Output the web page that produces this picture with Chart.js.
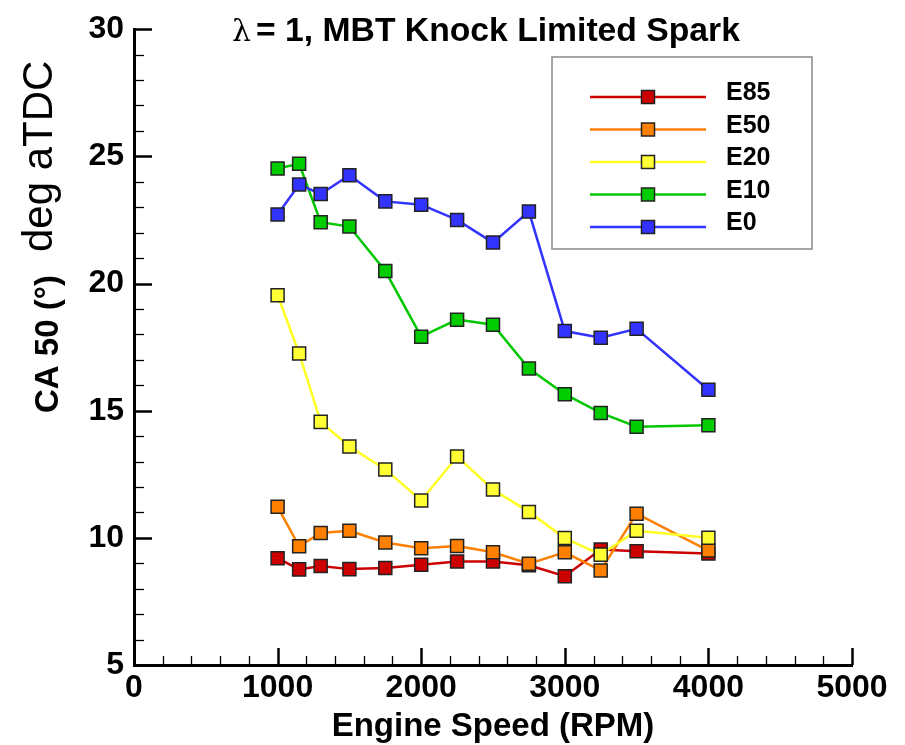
<!DOCTYPE html>
<html>
<head>
<meta charset="utf-8">
<script src="https://cdn.jsdelivr.net/npm/chart.js@4"></script>
<style>
  html, body { margin: 0; padding: 0; background: #fff; }
</style>
</head>
<body>
<canvas id="chart" width="905" height="745"></canvas>
<script>
// Engine speed (RPM) and CA50 (deg aTDC)
const rpm = [1000, 1150, 1300, 1500, 1750, 2000, 2250, 2500, 2750, 3000, 3250, 3500, 4000];
const e85 = [9.2, 8.76, 8.89, 8.77, 8.81, 8.94, 9.07, 9.07, 8.92, 8.49, 9.54, 9.47, 9.38];
const e50 = [11.22, 9.67, 10.19, 10.28, 9.82, 9.59, 9.68, 9.43, 8.98, 9.43, 8.72, 10.95, 9.5];
const e20 = [19.54, 17.25, 14.56, 13.59, 12.69, 11.47, 13.2, 11.9, 11.02, 9.99, 9.34, 10.28, 10.0];
const e10 = [24.52, 24.71, 22.41, 22.24, 20.49, 17.91, 18.58, 18.38, 16.66, 15.65, 14.91, 14.37, 14.43];
const e0  = [22.71, 23.89, 23.52, 24.26, 23.23, 23.1, 22.5, 21.61, 22.83, 18.13, 17.87, 18.22, 15.82];

const seriesNames = ['E85', 'E50', 'E20', 'E10', 'E0'];
const seriesValues = [e85, e50, e20, e10, e0];
const lineColors = ['#cc0000', '#ff8000', '#ffff22', '#00c800', '#3333ff'];
const fillColors = ['#cc0000', '#ff8000', '#ffff33', '#00cc00', '#3333ff'];

const xMin = 0, xMax = 5000, xStep = 1000, xMinor = 200;
const yMin = 5, yMax = 30, yStep = 5, yMinor = 1;

const FONT = '"Liberation Sans", Arial, sans-serif';

const datasets = seriesNames.map((name, i) => ({
  label: name,
  data: rpm.map((x, j) => ({ x: x, y: seriesValues[i][j] })),
  borderColor: lineColors[i],
  backgroundColor: fillColors[i],
  borderWidth: 2.5,
  tension: 0,
  pointStyle: 'rect',
  pointRadius: 9.2,
  pointBorderWidth: 1.5,
  pointBorderColor: '#222',
  pointBackgroundColor: fillColors[i],
  order: seriesNames.length - i   // E0 drawn last, on top
}));

// inward ticks, rotated y label, title and boxed legend
const decorations = {
  id: 'decorations',
  afterDraw(chart) {
    const ctx = chart.ctx;
    const area = chart.chartArea;
    const xs = chart.scales.x, ys = chart.scales.y;
    ctx.save();
    ctx.strokeStyle = '#000';
    for (let v = yMin; v <= yMax; v += yMinor) {
      const major = v % yStep === 0;
      const py = Math.round(ys.getPixelForValue(v)) + 0.5;
      ctx.lineWidth = major ? 2.5 : 1.3;
      ctx.beginPath();
      ctx.moveTo(area.left, py);
      ctx.lineTo(area.left + (major ? 18 : 10), py);
      ctx.stroke();
    }
    for (let v = xMin; v <= xMax; v += xMinor) {
      const major = v % xStep === 0;
      const px = Math.round(xs.getPixelForValue(v)) + 0.5;
      ctx.lineWidth = major ? 2.5 : 1.3;
      ctx.beginPath();
      ctx.moveTo(px, area.bottom);
      ctx.lineTo(px, area.bottom - (major ? 17 : 9));
      ctx.stroke();
    }

    // y axis title: bold part then normal part
    ctx.fillStyle = '#000';
    ctx.translate(58, 413);
    ctx.rotate(-Math.PI / 2);
    ctx.textAlign = 'left';
    ctx.textBaseline = 'alphabetic';
    ctx.font = 'bold 33px ' + FONT;
    ctx.fillText('CA 50 (°)', 0, 0);
    ctx.font = '42px ' + FONT;
    ctx.fillText('deg aTDC', 161, -6);
    ctx.setTransform(1, 0, 0, 1, 0, 0);

    // title
    ctx.font = '30px "DejaVu Serif", serif';
    ctx.fillText('λ', 232, 41);
    ctx.font = 'bold 33.7px ' + FONT;
    ctx.fillText('= 1, MBT Knock Limited Spark', 256, 41);

    // legend
    const box = { x: 552, y: 57, w: 260, h: 192 };
    ctx.fillStyle = '#fff';
    ctx.fillRect(box.x, box.y, box.w, box.h);
    ctx.strokeStyle = '#888';
    ctx.lineWidth = 1.5;
    ctx.strokeRect(box.x, box.y, box.w, box.h);
    chart.data.datasets.forEach((ds, i) => {
      const ry = 97 + i * 32.5;
      ctx.strokeStyle = ds.borderColor;
      ctx.lineWidth = 2.5;
      ctx.beginPath();
      ctx.moveTo(590, ry);
      ctx.lineTo(706, ry);
      ctx.stroke();
      ctx.fillStyle = ds.pointBackgroundColor;
      ctx.fillRect(641.5, ry - 6.5, 13, 13);
      ctx.strokeStyle = '#222';
      ctx.lineWidth = 1.5;
      ctx.strokeRect(641.5, ry - 6.5, 13, 13);
      ctx.fillStyle = '#000';
      ctx.font = 'bold 25px ' + FONT;
      ctx.fillText(ds.label, 726, ry + 3);
    });
    ctx.restore();
  }
};

new Chart(document.getElementById('chart'), {
  type: 'line',
  data: { datasets: datasets },
  options: {
    responsive: false,
    animation: false,
    devicePixelRatio: 1,
    layout: { padding: { top: 23, right: 53, left: 0, bottom: 0 } },
    plugins: {
      legend: { display: false },
      tooltip: { enabled: false },
      title: { display: false }
    },
    scales: {
      x: {
        type: 'linear',
        min: xMin,
        max: xMax,
        ticks: {
          stepSize: xStep,
          color: '#000',
          font: { family: FONT, weight: 'bold', size: 32 },
          padding: 4,
          maxRotation: 0,
          autoSkip: false,
          callback: v => String(v)
        },
        grid: { display: false, drawTicks: false },
        border: { display: true, color: '#000', width: 3 },
        title: {
          display: true,
          text: 'Engine Speed (RPM)',
          color: '#000',
          font: { family: FONT, weight: 'bold', size: 33, lineHeight: 1.1 },
          padding: { top: 0, bottom: 0 }
        },
        afterFit(scale) { scale.height = 80; }
      },
      y: {
        min: yMin,
        max: yMax,
        ticks: {
          stepSize: yStep,
          color: '#000',
          font: { family: FONT, weight: 'bold', size: 32 },
          padding: 10,
          callback: v => String(v)
        },
        grid: { display: false, drawTicks: false },
        border: { display: true, color: '#000', width: 3 },
        afterFit(scale) { scale.width = 134; }
      }
    }
  },
  plugins: [decorations]
});
</script>
</body>
</html>
